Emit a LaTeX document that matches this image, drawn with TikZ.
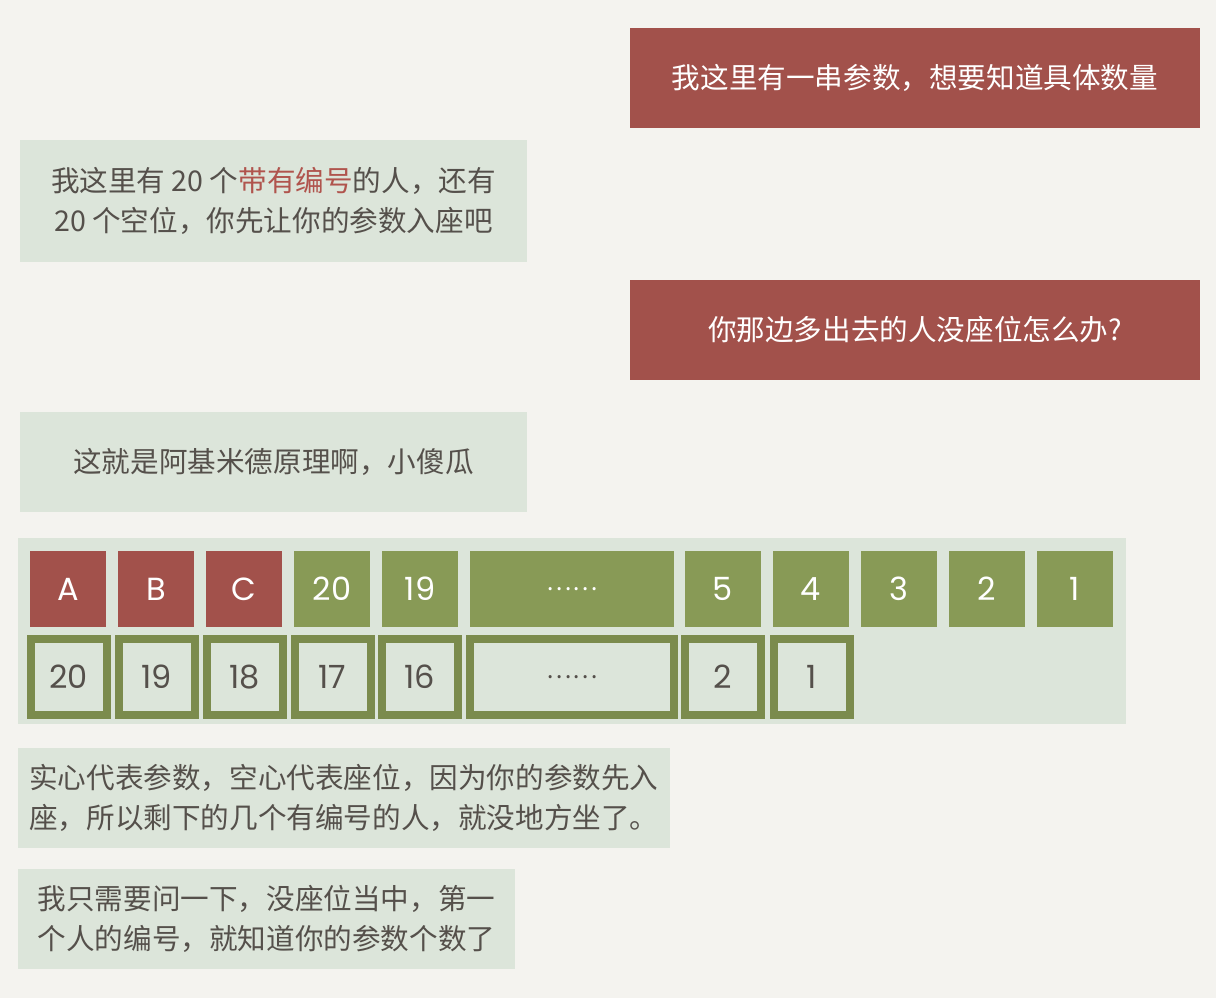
\documentclass[tikz,border=0pt]{standalone}
\usepackage{fontspec}
\newfontfamily\cjk{Noto Sans CJK SC}
\newfontfamily\numfont{Poppins}
\definecolor{paper}{HTML}{F4F3EF}
\definecolor{brick}{HTML}{A2514B}
\definecolor{hilite}{HTML}{B0544D}
\definecolor{sage}{HTML}{DCE5DA}
\definecolor{olive}{HTML}{889A56}
\definecolor{oliveline}{HTML}{7B8B4D}
\definecolor{ink}{HTML}{55504B}
\tikzset{
  msgtext/.style={font=\cjk\fontsize{28.6pt}{40pt}\selectfont,inner sep=0pt},
  askbox/.style={msgtext,fill=brick,text=white,minimum width=570pt,minimum height=100pt},
  replybox/.style={msgtext,fill=sage,text=ink,minimum width=507pt,minimum height=100pt},
  param/.style={fill=olive,text=white,minimum width=76pt,minimum height=76pt,inner sep=0pt,
    font=\numfont\fontsize{32pt}{32pt}\selectfont},
  extra/.style={param,fill=brick},
  seat/.style={draw=oliveline,line width=8pt,text=ink,minimum width=76pt,minimum height=76pt,
    inner sep=0pt,font=\numfont\fontsize{32pt}{32pt}\selectfont}
}
\begin{document}
\begin{tikzpicture}[x=1pt,y=-1pt]
\fill[paper] (0,0) rectangle (1216,998);
% dialogue
\node[askbox] (ask1) at (915,78) {我这里有一串参数，想要知道具体数量};
\node[replybox,minimum height=122pt,align=center] (reply1) at (273.5,201)
  {我这里有\ 20\ 个{\color{hilite}带有编号}的人，还有\\20\ 个空位，你先让你的参数入座吧};
\node[askbox] (ask2) at (915,330) {你那边多出去的人没座位怎么办?};
\node[replybox] (reply2) at (273.5,462) {这就是阿基米德原理啊，小傻瓜};
% params (filled) over seats (hollow)
\node[fill=sage,minimum width=1108pt,minimum height=186pt,inner sep=0pt] (panel) at (572,631) {};
\node[extra] (pA) at (68,589) {A};
\node[extra] (pB) at (156,589) {B};
\node[extra] (pC) at (244,589) {C};
\node[param] (p20) at (332,589) {20};
\node[param] (p19) at (420,589) {19};
\node[param,minimum width=204pt] (pdots) at (572,589) {\cjk\fontsize{24pt}{24pt}\selectfont ……};
\node[param] (p5) at (723,589) {5};
\node[param] (p4) at (811,589) {4};
\node[param] (p3) at (899,589) {3};
\node[param] (p2) at (987,589) {2};
\node[param] (p1) at (1075,589) {1};
\node[seat] (s20) at (68.5,677) {20};
\node[seat] (s19) at (156.5,677) {19};
\node[seat] (s18) at (244.5,677) {18};
\node[seat] (s17) at (332.5,677) {17};
\node[seat] (s16) at (420,677) {16};
\node[seat,minimum width=204pt] (sdots) at (572,677) {\cjk\fontsize{24pt}{24pt}\selectfont ……};
\node[seat] (s2) at (723,677) {2};
\node[seat] (s1) at (811.5,677) {1};
% notes
\node[replybox,minimum width=652pt,align=left] (note1) at (344,797.5)
  {实心代表参数，空心代表座位，因为你的参数先入\\座，所以剩下的几个有编号的人，就没地方坐了。};
\node[replybox,minimum width=497pt,align=left] (note2) at (266.5,919)
  {我只需要问一下，没座位当中，第一\\个人的编号，就知道你的参数个数了};
\end{tikzpicture}
\end{document}
